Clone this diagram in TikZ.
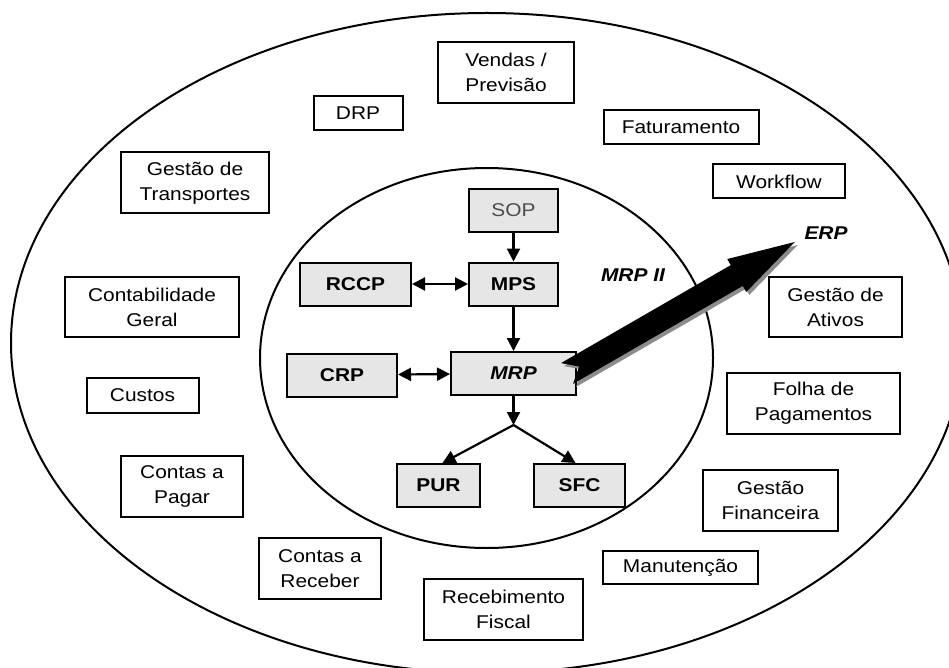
\documentclass[tikz,border=0pt]{standalone}
\usepackage{fontspec}
\setmainfont{Liberation Sans}[FakeStretch=1.13]
\usepackage{tikz}
\usetikzlibrary{arrows.meta,calc}
\definecolor{modgray}{HTML}{E6E6E6}
\definecolor{shadowgray}{HTML}{8C8C8C}
\tikzset{
  txt/.style={font=\fontsize{18.5}{25}\selectfont},
  erpbox/.style={txt, draw, line width=2pt, fill=white, align=center, inner sep=3pt},
  mrpbox/.style={txt, draw, line width=2pt, fill=modgray, align=center, inner sep=3pt,
                 minimum height=43, font=\fontsize{18.5}{25}\selectfont\bfseries},
  flow/.style={line width=2.2pt, -{Triangle[length=13pt,width=13pt]}},
  twoway/.style={line width=2.2pt, {Triangle[length=13pt,width=13pt]}-{Triangle[length=13pt,width=13pt]}},
}

\begin{document}
\begin{tikzpicture}[x=1pt, y=-1pt]
		%%%%% START %%%%%
		\useasboundingbox (0,0) rectangle (949,668);
		
		% rings
		\begin{scope}
			\clip (0,0) rectangle (949,668);
			\draw[line width=2pt] (487,343) ellipse [x radius=476, y radius=330];
		\end{scope}
		\draw[line width=2pt] (486.5,358) ellipse [x radius=226.5, y radius=190];
		
		% ERP modules
		\node[erpbox, minimum width=136, minimum height=61] (vendas) at (506,72.5) {Vendas /\\Previsão};
		\node[erpbox, minimum width=89, minimum height=34] (drp) at (358,113) {DRP};
		\node[erpbox, minimum width=155, minimum height=34] (fat) at (681,127) {Faturamento};
		\node[erpbox, minimum width=148, minimum height=61] (gtrans) at (195,183) {Gestão de\\Transportes};
		\node[erpbox, minimum width=132, minimum height=34] (workflow) at (779,181.5) {Workflow};
		\node[erpbox, minimum width=174, minimum height=60] (contab) at (152,307) {Contabilidade\\Geral};
		\node[erpbox, minimum width=133, minimum height=60] (gativos) at (835.5,307) {Gestão de\\Ativos};
		\node[erpbox, minimum width=112, minimum height=35] (custos) at (142.5,395.5) {Custos};
		\node[erpbox, minimum width=173, minimum height=61] (folha) at (813.5,403) {Folha de\\Pagamentos};
		\node[erpbox, minimum width=122, minimum height=61] (cpagar) at (182,486) {Contas a\\Pagar};
		\node[erpbox, minimum width=135, minimum height=61] (gfin) at (770.5,500) {Gestão\\Financeira};
		\node[erpbox, minimum width=122, minimum height=61] (creceber) at (320,568.5) {Contas a\\Receber};
		\node[erpbox, minimum width=155, minimum height=33] (manut) at (680.5,567.5) {Manutenção};
		\node[erpbox, minimum width=159, minimum height=61] (receb) at (503.5,609.5) {Recebimento\\Fiscal};
		
		% MRP II modules
		\node[mrpbox, minimum width=89, font=\fontsize{18.5}{25}\selectfont, text=black!70] (sop) at (513.5,210.5) {SOP};
		\node[mrpbox, minimum width=111] (rccp) at (355.5,284) {RCCP};
		\node[mrpbox, minimum width=89] (mps) at (513.5,284) {MPS};
		\node[mrpbox, minimum width=110] (crp) at (342,375) {CRP};
		\node[mrpbox, minimum width=125, font=\fontsize{18.5}{25}\selectfont\bfseries\itshape] (mrp) at (513.5,373.5) {MRP};
		\node[mrpbox, minimum width=83] (pur) at (438.5,485.5) {PUR};
		\node[mrpbox, minimum width=91] (sfc) at (579.5,485.5) {SFC};
		
		\node[txt, font=\fontsize{18.5}{25}\selectfont\bfseries\itshape] (mrpii) at (633,275) {MRP II};
		\node[txt, font=\fontsize{18.5}{25}\selectfont\bfseries\itshape] (erp) at (826,233.5) {ERP};
		
		% links
		\draw[flow] (sop) -- (mps);
		\draw[flow] (mps) -- (mrp);
		\draw[twoway] (rccp) -- (mps);
		\draw[twoway] (crp) -- (mrp);
		\coordinate (split) at (513.5,425);
		\draw[flow] (mrp) -- (split);
		\draw[flow] (split) -- ([xshift=4]pur.north);
		\draw[flow] (split) -- ([xshift=-4]sfc.north);
		
		% big arrow MRP -> ERP
		\coordinate (tail) at ([xshift=-10]mrp.east);
		\foreach \col/\dx in {shadowgray/3, black/0}
		{
			\begin{scope}[shift={($(tail)+(\dx,\dx)$)}, rotate=30]
				\fill[\col] (0,12) -- (196,12) -- (196,19) -- (263,0) -- (196,-19)
					-- (196,-12) -- (0,-12) -- (14,0) -- cycle;
			\end{scope}
		}
		
		%%%%% END %%%%%
	\end{tikzpicture}
\end{document}
